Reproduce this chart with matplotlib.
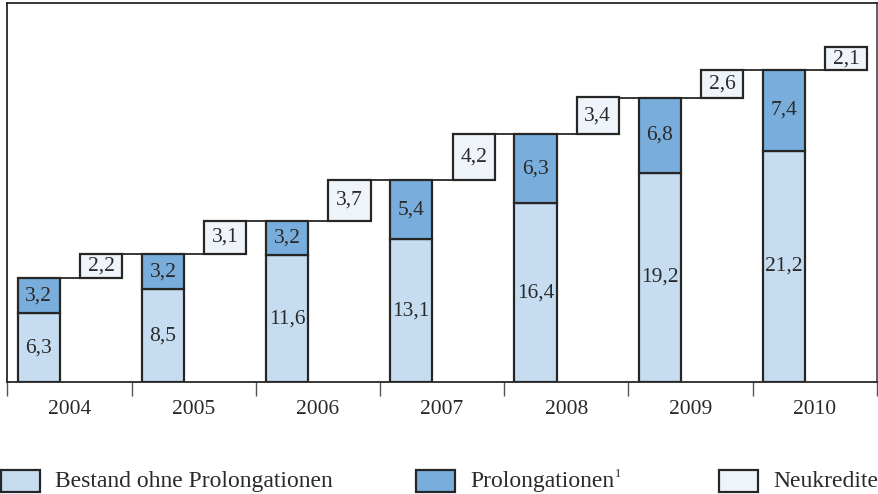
import matplotlib
matplotlib.use("Agg")
import matplotlib.pyplot as plt
from matplotlib.patches import Rectangle

plt.rcParams["font.family"] = ["Liberation Serif", "DejaVu Serif"]

YEARS      = ["2004", "2005", "2006", "2007", "2008", "2009", "2010"]
BESTAND    = [6.3, 8.5, 11.6, 13.1, 16.4, 19.2, 21.2]
PROLONG    = [3.2, 3.2, 3.2, 5.4, 6.3, 6.8, 7.4]
NEUKREDITE = [2.2, 3.1, 3.7, 4.2, 3.4, 2.6, 2.1]

C_BESTAND = "#c6dcf0"
C_PROLONG = "#79aedc"
C_NEU     = "#eef4fa"
EDGE      = "#262626"
TXT       = "#2a2a2a"

fig = plt.figure(figsize=(8.79, 4.94), dpi=100)
W, H = 879, 494
ax = fig.add_axes([7.5 / W, (H - 382) / H, (876.7 - 7.5) / W, (382 - 3.5) / H])

n = len(YEARS)
BAR_OFF, BAR_W = 0.082, 0.34
BOX_OFF = 0.584
fs_bar = 15.5
fs_year = 15.5
fs_leg = 17

totals = [b + p for b, p in zip(BESTAND, PROLONG)]

def lab(v):
    return f"{v:.1f}".replace(".", ",")

for i in range(n):
    x0 = i + BAR_OFF
    # stacked bar
    ax.add_patch(Rectangle((x0, 0), BAR_W, BESTAND[i], facecolor=C_BESTAND,
                           edgecolor=EDGE, linewidth=1.6, zorder=3))
    ax.add_patch(Rectangle((x0, BESTAND[i]), BAR_W, PROLONG[i], facecolor=C_PROLONG,
                           edgecolor=EDGE, linewidth=1.6, zorder=3))
    ax.text(x0 + BAR_W / 2, BESTAND[i] / 2, lab(BESTAND[i]),
            ha="center", va="center", fontsize=fs_bar, color=TXT, zorder=4)
    ax.text(x0 + BAR_W / 2, BESTAND[i] + PROLONG[i] / 2, lab(PROLONG[i]),
            ha="center", va="center", fontsize=fs_bar, color=TXT, zorder=4)

    # Neukredite box
    bx = i + BOX_OFF
    ax.add_patch(Rectangle((bx, totals[i]), BAR_W, NEUKREDITE[i], facecolor=C_NEU,
                           edgecolor=EDGE, linewidth=1.6, zorder=3))
    ax.text(bx + BAR_W / 2, totals[i] + NEUKREDITE[i] / 2, lab(NEUKREDITE[i]),
            ha="center", va="center", fontsize=fs_bar, color=TXT, zorder=4)

    # connectors
    ax.plot([x0 + BAR_W, bx], [totals[i], totals[i]], color=EDGE, lw=1.3, zorder=2)
    if i < n - 1:
        ax.plot([bx + BAR_W, i + 1 + BAR_OFF], [totals[i + 1], totals[i + 1]],
                color=EDGE, lw=1.3, zorder=2)

ax.set_xlim(0, n)
ax.set_ylim(0, 34.7)
ax.set_yticks([])
ax.set_xticks(range(n + 1))
ax.set_xticklabels([])
ax.set_xticks([i + 0.5 for i in range(n)], minor=True)
ax.set_xticklabels(YEARS, minor=True, fontsize=fs_year, color=TXT)
ax.tick_params(axis="x", which="major", direction="out", length=10, width=1.0, color="#555555")
ax.tick_params(axis="x", which="minor", length=0, pad=13)
for side in ["left", "top", "right", "bottom"]:
    ax.spines[side].set_color(EDGE)
    ax.spines[side].set_linewidth(1.3)
ax.spines["right"].set_color("#555555")

# legend drawn by hand
legend = [(0, "Bestand ohne Prolongationen", C_BESTAND),
          (415, "Prolongationen", C_PROLONG),
          (718, "Neukredite", C_NEU)]
renderer = fig.canvas.get_renderer()
for lx, label, col in legend:
    fig.patches.append(Rectangle(((lx + 1) / W, (H - 492) / H), 39 / W, 22 / H,
                                 transform=fig.transFigure, facecolor=col,
                                 edgecolor=EDGE, linewidth=1.6))
    t = fig.text((lx + 55) / W, (H - 481) / H, label, ha="left", va="center",
                 fontsize=fs_leg, color=TXT)
    if label == "Prolongationen":
        bb = t.get_window_extent(renderer)
        fig.text((bb.x1 + 1) / W, (H - 474) / H, "1", ha="left", va="center",
                 fontsize=9, color=TXT)

fig.savefig("out.png", dpi=100)
